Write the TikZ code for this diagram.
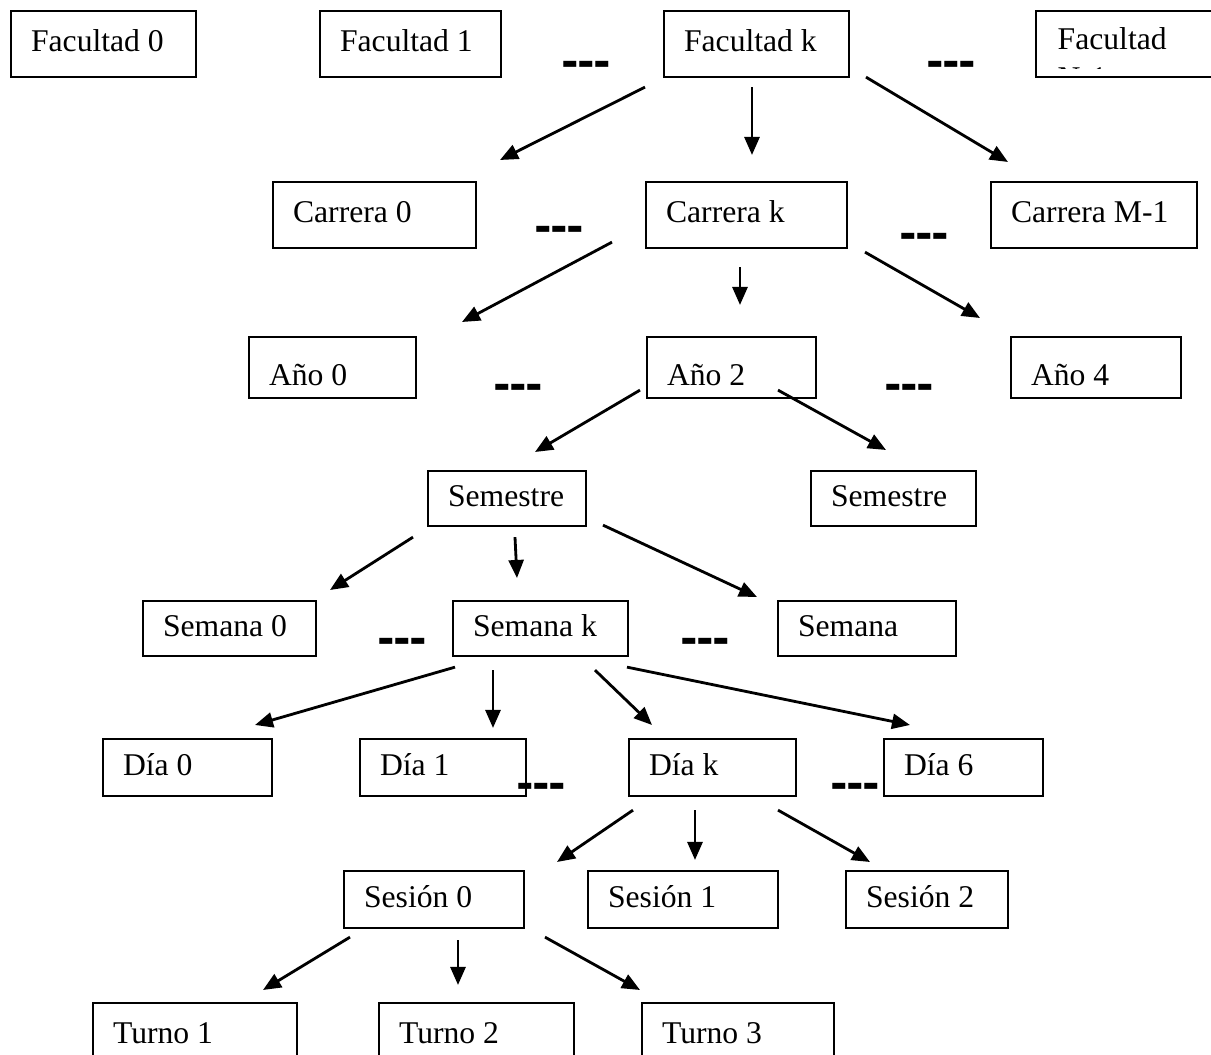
\documentclass[tikz,border=0pt]{standalone}
\usepackage{fontspec}
\setmainfont{Liberation Serif}
\newfontfamily\dashfont{DejaVu Sans}
\usetikzlibrary{arrows.meta}

\begin{document}
\begin{tikzpicture}[x=0.01cm, y=-0.01cm, font=\fontsize{9}{11}\selectfont,
  caja/.style={draw, line width=0.6pt, rectangle, anchor=north west, inner xsep=0.2cm, inner ysep=0pt, align=flush left, text height=0.7em, text depth=0.25em},
  flecha/.style={-{Triangle[length=0.18cm, width=0.15cm]}, line width=0.8pt},
  puntos/.style={font={\dashfont\bfseries\fontsize{12}{14}\selectfont}, inner sep=0pt}]
\useasboundingbox (0,0) rectangle (1211,1055);

% Facultades
\node[caja, text width=1.45cm, minimum height=0.66cm] (fac0) at (10,10) {Facultad 0};
\node[caja, text width=1.41cm, minimum height=0.66cm] (fac1) at (319,10) {Facultad 1};
\node[caja, text width=1.45cm, minimum height=0.66cm] (fack) at (663,10) {Facultad k};
\node[caja, text width=1.65cm, minimum height=0.66cm] (facN) at (1035,10) {};
\begin{scope}
\clip (1035,10) rectangle (1211,69);
\node[anchor=north west, align=flush left, inner sep=0pt] (facNtxt) at (1057,27) {Facultad\\N-1};
\end{scope}
\node[puntos] (p1) at (586,69) {-\kern-0.4pt-\kern-0.4pt-};
\node[puntos] (p2) at (951,69) {-\kern-0.4pt-\kern-0.4pt-};

% Carreras
\node[caja, text width=1.63cm, minimum height=0.66cm] (car0) at (272,181) {Carrera 0};
\node[caja, text width=1.61cm, minimum height=0.66cm] (cark) at (645,181) {Carrera k};
\node[caja, text width=1.66cm, minimum height=0.66cm] (carM) at (990,181) {Carrera M-1};
\node[puntos] (p3) at (559,234) {-\kern-0.4pt-\kern-0.4pt-};
\node[puntos] (p4) at (924,241) {-\kern-0.4pt-\kern-0.4pt-};

% Años
\node[caja, text width=1.27cm, minimum height=0.61cm, text height=1em, text depth=0pt] (ano0) at (248,336) {Año 0};
\node[caja, text width=1.29cm, minimum height=0.61cm, text height=1em, text depth=0pt] (ano2) at (646,336) {Año 2};
\node[caja, text width=1.30cm, minimum height=0.61cm, text height=1em, text depth=0pt] (ano4) at (1010,336) {Año 4};
\node[puntos] (p5) at (518,392) {-\kern-0.4pt-\kern-0.4pt-};
\node[puntos] (p6) at (909,392) {-\kern-0.4pt-\kern-0.4pt-};

% Semestres
\node[caja, text width=1.18cm, minimum height=0.55cm] (sem1) at (427,470) {Semestre};
\node[caja, text width=1.25cm, minimum height=0.55cm] (sem2) at (810,470) {Semestre};

% Semanas
\node[caja, text width=1.33cm, minimum height=0.55cm] (sw0) at (142,600) {Semana 0};
\node[caja, text width=1.35cm, minimum height=0.55cm] (swk) at (452,600) {Semana k};
\node[caja, text width=1.38cm, minimum height=0.55cm] (swN) at (777,600) {Semana};
\node[puntos] (p7) at (402,646) {-\kern-0.4pt-\kern-0.4pt-};
\node[puntos] (p8) at (705,646) {-\kern-0.4pt-\kern-0.4pt-};

% Dias
\node[caja, text width=1.29cm, minimum height=0.57cm] (d0) at (102,738) {Día 0};
\node[caja, text width=1.26cm, minimum height=0.57cm] (d1) at (359,738) {Día 1};
\node[caja, text width=1.27cm, minimum height=0.57cm] (dk) at (628,738) {Día k};
\node[caja, text width=1.19cm, minimum height=0.57cm] (d6) at (883,738) {Día 6};
\node[puntos] (p9) at (541,791) {-\kern-0.4pt-\kern-0.4pt-};
\node[puntos] (p10) at (855,791) {-\kern-0.4pt-\kern-0.4pt-};

% Sesiones
\node[caja, text width=1.40cm, minimum height=0.57cm] (s0) at (343,870) {Sesión 0};
\node[caja, text width=1.50cm, minimum height=0.57cm] (s1) at (587,870) {Sesión 1};
\node[caja, text width=1.22cm, minimum height=0.57cm] (s2) at (845,870) {Sesión 2};

% Turnos
\node[caja, text width=1.64cm, minimum height=0.66cm] (t1) at (92,1002) {Turno 1};
\node[caja, text width=1.55cm, minimum height=0.66cm] (t2) at (378,1002) {Turno 2};
\node[caja, text width=1.52cm, minimum height=0.66cm] (t3) at (641,1002) {Turno 3};

% Flechas
\draw[flecha] ([shift={(-18,9)}]fack.south west) -- ([shift={(228,-21)}]car0.north west);
\draw[flecha] ([shift={(89,9)}]fack.south west) -- ([shift={(107,-26)}]cark.north west);
\draw[flecha] ([shift={(203,-1)}]fack.south west) -- ([shift={(18,-19)}]carM.north west);

\draw[flecha] ([shift={(-33,-7)}]cark.south west) -- ([shift={(214,-14)}]ano0.north west);
\draw[flecha] ([shift={(95,18)}]cark.south west) -- ([shift={(94,-31)}]ano2.north west);
\draw[flecha] ([shift={(220,3)}]cark.south west) -- ([shift={(-30,-18)}]ano4.north west);

\draw[flecha] ([shift={(-6,-9)}]ano2.south west) -- ([shift={(108,-18)}]sem1.north west);
\draw[flecha] ([shift={(132,-9)}]ano2.south west) -- ([shift={(76,-20)}]sem2.north west);

\draw[flecha] ([shift={(-14,10)}]sem1.south west) -- ([shift={(188,-10)}]sw0.north west);
\draw[flecha] ([shift={(88,10)}]sem1.south west) -- ([shift={(65,-22)}]swk.north west);
\draw[flecha] ([shift={(176,-2)}]sem1.south west) -- ([shift={(-20,-3)}]swN.north west);

\draw[flecha] ([shift={(3,10)}]swk.south west) -- ([shift={(153,-13)}]d0.north west);
\draw[flecha] ([shift={(41,13)}]swk.south west) -- ([shift={(134,-10)}]d1.north west);
\draw[flecha] ([shift={(143,13)}]swk.south west) -- ([shift={(24,-13)}]dk.north west);
\draw[flecha] ([shift={(175,10)}]swk.south west) -- ([shift={(27,-13)}]d6.north west);

\draw[flecha] ([shift={(5,13)}]dk.south west) -- ([shift={(214,-8)}]s0.north west);
\draw[flecha] ([shift={(67,13)}]dk.south west) -- ([shift={(108,-10)}]s1.north west);
\draw[flecha] ([shift={(150,13)}]dk.south west) -- ([shift={(25,-8)}]s2.north west);

\draw[flecha] ([shift={(7,8)}]s0.south west) -- ([shift={(171,-12)}]t1.north west);
\draw[flecha] ([shift={(115,11)}]s0.south west) -- ([shift={(80,-17)}]t2.north west);
\draw[flecha] ([shift={(202,8)}]s0.south west) -- ([shift={(-1,-12)}]t3.north west);
\end{tikzpicture}
\end{document}
